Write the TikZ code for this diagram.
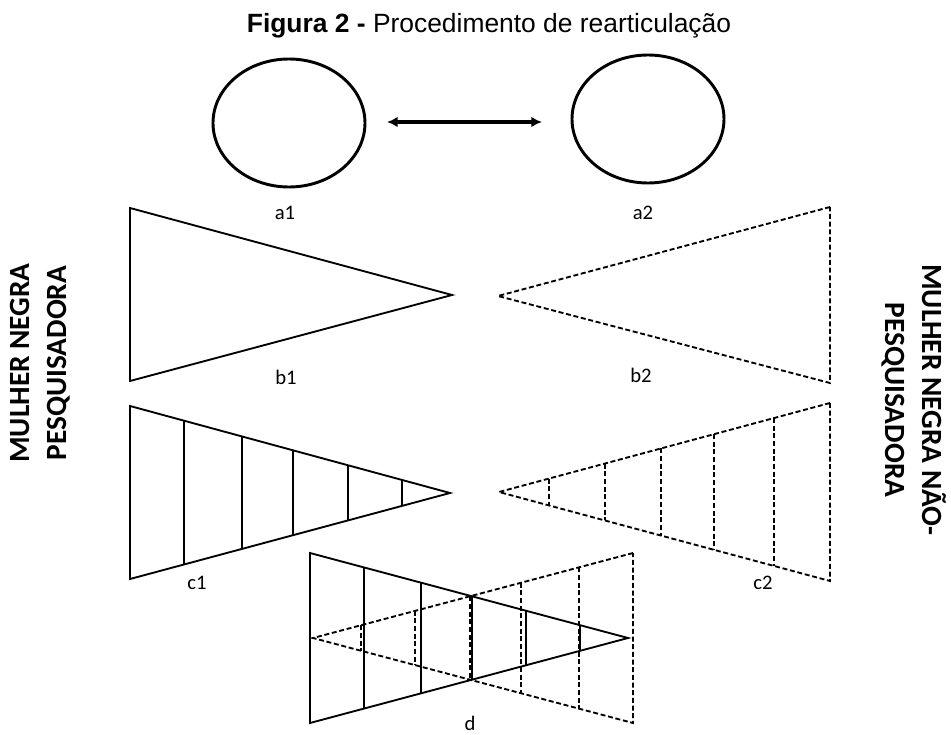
\documentclass[tikz,border=0pt]{standalone}
\usepackage{fontspec}
\setmainfont{Liberation Sans}
\newfontfamily\calibri{Carlito}
\usetikzlibrary{arrows.meta,calc,shapes.geometric}

\begin{document}
\begin{tikzpicture}[x=0.75pt,y=-0.75pt,>={Latex[length=8pt,width=8pt]}]
  \tikzstyle{ring}=[draw,ellipse,line width=2.2pt,inner sep=0pt,minimum width=114pt,minimum height=96pt]
  \tikzstyle{solidtri}=[line width=1.4pt]
  \tikzstyle{dashtri}=[line width=1.4pt,dash pattern=on 3.75pt off 2pt]
  \tikzstyle{tag}=[font=\calibri\fontsize{15.5}{18}\selectfont,inner sep=1pt]
  \tikzstyle{sidetext}=[font=\calibri\bfseries\fontsize{22}{28}\selectfont,align=center,inner sep=0pt]

  \useasboundingbox (0,0) rectangle (951,735);

  \node[font=\fontsize{19.8}{23}\selectfont,anchor=base] (title) at (489,33) {\textbf{Figura 2 -} Procedimento de rearticulação};

  % circles
  \node[ring] (a1c) at (289,123) {};
  \node[ring] (a2c) at (648,119) {};
  \coordinate (arrowL) at (387,122);
  \coordinate (arrowR) at (542,122);
  \draw[<->,line width=2.4pt] (arrowL) -- (arrowR);
  \node[tag] (a1) at (285,213) {a1};
  \node[tag] (a2) at (643,213) {a2};

  % plain triangles
  \coordinate (b1top) at (130,208);
  \coordinate (b1bot) at (130,381);
  \coordinate (b1tip) at (452,295);
  \draw[solidtri] (b1top) -- (b1tip) -- (b1bot) -- cycle;
  \coordinate (b2top) at (830,207);
  \coordinate (b2bot) at (830,383);
  \coordinate (b2tip) at (498,296);
  \draw[dashtri] (b2top) -- (b2tip) -- (b2bot) -- cycle;
  \node[tag] (b1) at (286,377) {b1};
  \node[tag] (b2) at (641,375) {b2};

  % triangles with cuts
  \coordinate (c1top) at (130,406);
  \coordinate (c1bot) at (130,579);
  \coordinate (c1tip) at (450,493);
  \draw[solidtri] (c1top) -- (c1tip) -- (c1bot) -- cycle;
  \foreach \f in {0.17,0.35,0.51,0.68,0.85}
    \draw[solidtri] ($(c1top)!\f!(c1tip)$) -- ($(c1bot)!\f!(c1tip)$);
  \coordinate (c2top) at (830,403);
  \coordinate (c2bot) at (830,581);
  \coordinate (c2tip) at (499,492);
  \draw[dashtri] (c2top) -- (c2tip) -- (c2bot) -- cycle;
  \foreach \f in {0.17,0.35,0.51,0.68,0.85}
    \draw[dashtri] ($(c2top)!\f!(c2tip)$) -- ($(c2bot)!\f!(c2tip)$);
  \node[tag] (c1) at (197,583) {c1};
  \node[tag] (c2) at (763,583) {c2};

  % overlap
  \coordinate (d1top) at (310,553);
  \coordinate (d1bot) at (310,723);
  \coordinate (d1tip) at (628,638);
  \coordinate (d2top) at (633,553);
  \coordinate (d2bot) at (633,723);
  \coordinate (d2tip) at (313,638);
  \draw[solidtri] (d1top) -- (d1tip) -- (d1bot) -- cycle;
  \foreach \f in {0.17,0.35,0.51,0.68,0.85}
    \draw[solidtri] ($(d1top)!\f!(d1tip)$) -- ($(d1bot)!\f!(d1tip)$);
  \draw[dashtri] (d2top) -- (d2tip) -- (d2bot) -- cycle;
  \foreach \f in {0.17,0.35,0.51,0.68,0.85}
    \draw[dashtri] ($(d2top)!\f!(d2tip)$) -- ($(d2bot)!\f!(d2tip)$);
  \node[tag] (d) at (470,723) {d};

  % side captions
  \node[sidetext,rotate=90] (leftcap) at (40,363) {MULHER NEGRA\\PESQUISADORA};
  \node[sidetext,rotate=-90] (rightcap) at (914,400) {MULHER NEGRA NÃO-\\PESQUISADORA};
\end{tikzpicture}
\end{document}
